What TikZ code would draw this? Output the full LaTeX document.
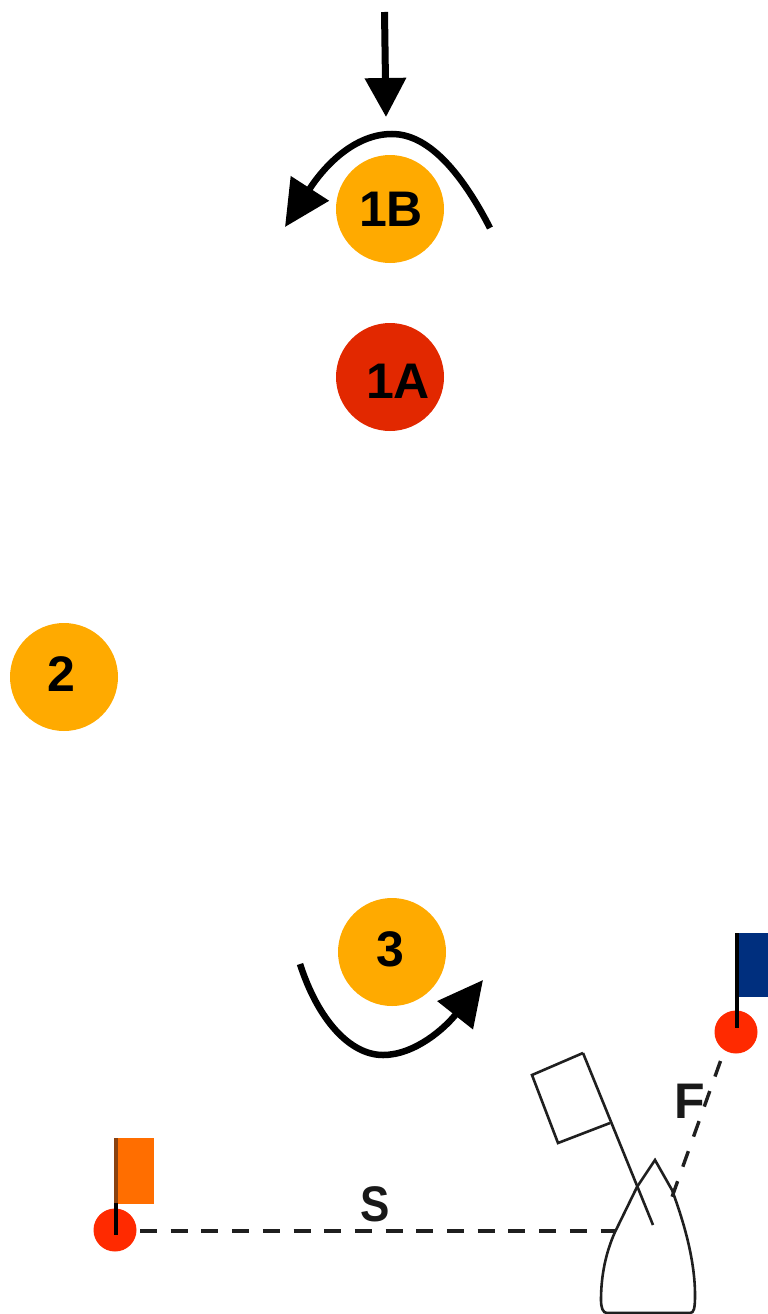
\documentclass[tikz,border=0pt]{standalone}
\usepackage{fontspec}
\setmainfont{Liberation Sans}
\usetikzlibrary{arrows.meta}
\definecolor{amber}{HTML}{FFAA00}
\definecolor{deepred}{HTML}{E22800}
\definecolor{buoyred}{HTML}{FF2A00}
\definecolor{flagblue}{HTML}{002F7E}
\definecolor{flagorange}{HTML}{FF6E00}
\definecolor{polebrown}{HTML}{8A4210}
\tikzset{
  pos/.style={circle,fill=#1,draw=none,minimum size=108pt,inner sep=0pt},
  poslabel/.style={text=black,font=\fontsize{50}{60}\selectfont\bfseries,inner sep=0pt},
  buoy/.style={circle,fill=buoyred,draw=none,minimum size=43pt,inner sep=0pt},
  pole/.style={draw=black,line width=3.2pt},
  move/.style={draw=black,line width=6.5pt,-{Triangle[length=#1,width=44pt]}},
  track/.style={draw=black!88,line width=3.4pt},
  hull/.style={draw=black!88,line width=2.6pt,line join=miter,fill=none},
  letter/.style={text=black!90,font=\fontsize{50}{60}\selectfont\bfseries,inner sep=0pt}
}
\begin{document}
\begin{tikzpicture}[x=1pt,y=-1pt]
\useasboundingbox (0,0) rectangle (768,1314);
\fill[white] (0,0) rectangle (768,1314);

\node[pos=amber] (p1b) at (390,209) {};
\node[pos=deepred] (p1a) at (390,377) {};
\node[pos=amber] (p2) at (64,677) {};
\node[pos=amber] (p3) at (392,952) {};
\node[poslabel] (l1b) at (391,209) {1B};
\node[poslabel] (l1a) at (398,381) {1A};
\node[poslabel] (l2) at (61,674) {2};
\node[poslabel] (l3) at (390,949) {3};

% top arrow
\coordinate (t0) at (384.5,12);
\coordinate (t1) at (386,117);
\draw[draw=black,line width=7pt,-{Triangle[length=39pt,width=40pt]}] (t0) -- (t1);

% arc over 1B
\coordinate (a0) at (490,228);
\coordinate (a1) at (285,227);
\draw[move=46pt] (a0) .. controls (455,160) and (422,134) .. (392,134)
  .. controls (355,134) and (325,165) .. (a1);

% arc under 3
\coordinate (b0) at (300,964);
\coordinate (b1) at (483,980);
\draw[move=45pt] (b0) .. controls (318,1020) and (350,1055) .. (383,1055)
  .. controls (415,1055) and (445,1028) .. (b1);

% flags and buoys
\fill[flagblue] (737,933) rectangle (768,997);
\fill[flagorange] (116,1138) rectangle (154,1204);
\node[buoy] (fb) at (736,1032) {};
\node[buoy] (sb) at (115,1230) {};
\coordinate (ftop) at (737,933);
\coordinate (fend) at (737,1028);
\coordinate (stop) at (116,1138);
\coordinate (smid) at (116,1203);
\coordinate (send) at (116,1235);
\draw[pole] (ftop) -- (fend);
\draw[pole,draw=polebrown] (stop) -- (smid);
\draw[pole] (smid) -- (send);

% tracks
\coordinate (s0) at (140,1231);
\coordinate (s1) at (615,1231);
\draw[track,dash pattern=on 17pt off 13.7pt] (s0) -- (s1);
\coordinate (f0) at (720.5,1061);
\coordinate (f1) at (672,1197);
\draw[track,dash pattern=on 16.5pt off 15.4pt] (f0) -- (f1);

% boat
\draw[hull] (655,1160) -- (637,1187) -- (615,1232)
  .. controls (606,1252) and (601,1275) .. (601,1300)
  .. controls (601,1308) and (603,1313) .. (607,1313)
  -- (690,1313)
  .. controls (694,1313) and (695,1308) .. (695,1295)
  .. controls (695,1262) and (685,1225) .. (672,1190) -- cycle;
\coordinate (m0) at (583,1053);
\coordinate (m1) at (653,1225);
\draw[hull] (m0) -- (m1);
\draw[hull] (583,1053) -- (532,1075) -- (558,1143) -- (610,1123);

\node[letter] (lf) at (690,1101) {F};
\node[letter,xscale=.88] (ls) at (375,1204) {S};
\end{tikzpicture}
\end{document}
